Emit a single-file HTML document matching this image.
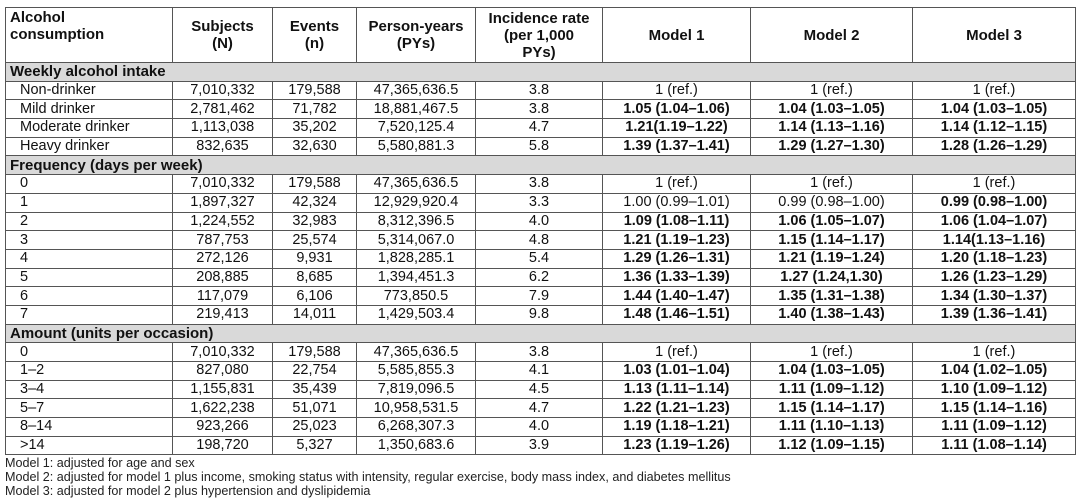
<!DOCTYPE html>
<html><head><meta charset="utf-8"><style>
body{margin:0;background:#fff;width:1080px;height:504px;overflow:hidden;font-family:"Liberation Sans",Arial,sans-serif;color:#111}
table{position:absolute;left:5px;top:7px;border-collapse:collapse;table-layout:fixed;width:1070px;font-size:14.5px}
td,th{border:1px solid #555;padding:0 4px;height:17.7px;line-height:17px;white-space:nowrap;overflow:hidden}
th{font-weight:bold;height:53px;line-height:17px;vertical-align:middle;text-align:center;font-size:15px}
th.l{text-align:left;vertical-align:top;padding-top:1px}
td{text-align:center}
td.l{text-align:left;padding-left:14px}
tr.s td{background:#d9d9d9;text-align:left;font-weight:bold;padding-left:4px;font-size:15px}
b{font-weight:bold}
.f{position:absolute;left:5px;font-size:12.6px;color:#222}
</style></head><body>
<table>
<colgroup><col style="width:167px"><col style="width:100px"><col style="width:84px"><col style="width:119px"><col style="width:127px"><col style="width:148px"><col style="width:162px"><col style="width:163px"></colgroup>
<tr><th class="l">Alcohol<br>consumption</th><th>Subjects<br>(N)</th><th>Events<br>(n)</th><th>Person-years<br>(PYs)</th><th>Incidence rate<br>(per 1,000<br>PYs)</th><th>Model 1</th><th>Model 2</th><th>Model 3</th></tr>
<tr class="s"><td colspan="8">Weekly alcohol intake</td></tr>
<tr><td class="l">Non-drinker</td><td>7,010,332</td><td>179,588</td><td>47,365,636.5</td><td>3.8</td><td>1 (ref.)</td><td>1 (ref.)</td><td>1 (ref.)</td></tr>
<tr><td class="l">Mild drinker</td><td>2,781,462</td><td>71,782</td><td>18,881,467.5</td><td>3.8</td><td><b>1.05 (1.04–1.06)</b></td><td><b>1.04 (1.03–1.05)</b></td><td><b>1.04 (1.03–1.05)</b></td></tr>
<tr><td class="l">Moderate drinker</td><td>1,113,038</td><td>35,202</td><td>7,520,125.4</td><td>4.7</td><td><b>1.21(1.19–1.22)</b></td><td><b>1.14 (1.13–1.16)</b></td><td><b>1.14 (1.12–1.15)</b></td></tr>
<tr><td class="l">Heavy drinker</td><td>832,635</td><td>32,630</td><td>5,580,881.3</td><td>5.8</td><td><b>1.39 (1.37–1.41)</b></td><td><b>1.29 (1.27–1.30)</b></td><td><b>1.28 (1.26–1.29)</b></td></tr>
<tr class="s"><td colspan="8">Frequency (days per week)</td></tr>
<tr><td class="l">0</td><td>7,010,332</td><td>179,588</td><td>47,365,636.5</td><td>3.8</td><td>1 (ref.)</td><td>1 (ref.)</td><td>1 (ref.)</td></tr>
<tr><td class="l">1</td><td>1,897,327</td><td>42,324</td><td>12,929,920.4</td><td>3.3</td><td>1.00 (0.99–1.01)</td><td>0.99 (0.98–1.00)</td><td><b>0.99 (0.98–1.00)</b></td></tr>
<tr><td class="l">2</td><td>1,224,552</td><td>32,983</td><td>8,312,396.5</td><td>4.0</td><td><b>1.09 (1.08–1.11)</b></td><td><b>1.06 (1.05–1.07)</b></td><td><b>1.06 (1.04–1.07)</b></td></tr>
<tr><td class="l">3</td><td>787,753</td><td>25,574</td><td>5,314,067.0</td><td>4.8</td><td><b>1.21 (1.19–1.23)</b></td><td><b>1.15 (1.14–1.17)</b></td><td><b>1.14(1.13–1.16)</b></td></tr>
<tr><td class="l">4</td><td>272,126</td><td>9,931</td><td>1,828,285.1</td><td>5.4</td><td><b>1.29 (1.26–1.31)</b></td><td><b>1.21 (1.19–1.24)</b></td><td><b>1.20 (1.18–1.23)</b></td></tr>
<tr><td class="l">5</td><td>208,885</td><td>8,685</td><td>1,394,451.3</td><td>6.2</td><td><b>1.36 (1.33–1.39)</b></td><td><b>1.27 (1.24,1.30)</b></td><td><b>1.26 (1.23–1.29)</b></td></tr>
<tr><td class="l">6</td><td>117,079</td><td>6,106</td><td>773,850.5</td><td>7.9</td><td><b>1.44 (1.40–1.47)</b></td><td><b>1.35 (1.31–1.38)</b></td><td><b>1.34 (1.30–1.37)</b></td></tr>
<tr><td class="l">7</td><td>219,413</td><td>14,011</td><td>1,429,503.4</td><td>9.8</td><td><b>1.48 (1.46–1.51)</b></td><td><b>1.40 (1.38–1.43)</b></td><td><b>1.39 (1.36–1.41)</b></td></tr>
<tr class="s"><td colspan="8">Amount (units per occasion)</td></tr>
<tr><td class="l">0</td><td>7,010,332</td><td>179,588</td><td>47,365,636.5</td><td>3.8</td><td>1 (ref.)</td><td>1 (ref.)</td><td>1 (ref.)</td></tr>
<tr><td class="l">1–2</td><td>827,080</td><td>22,754</td><td>5,585,855.3</td><td>4.1</td><td><b>1.03 (1.01–1.04)</b></td><td><b>1.04 (1.03–1.05)</b></td><td><b>1.04 (1.02–1.05)</b></td></tr>
<tr><td class="l">3–4</td><td>1,155,831</td><td>35,439</td><td>7,819,096.5</td><td>4.5</td><td><b>1.13 (1.11–1.14)</b></td><td><b>1.11 (1.09–1.12)</b></td><td><b>1.10 (1.09–1.12)</b></td></tr>
<tr><td class="l">5–7</td><td>1,622,238</td><td>51,071</td><td>10,958,531.5</td><td>4.7</td><td><b>1.22 (1.21–1.23)</b></td><td><b>1.15 (1.14–1.17)</b></td><td><b>1.15 (1.14–1.16)</b></td></tr>
<tr><td class="l">8–14</td><td>923,266</td><td>25,023</td><td>6,268,307.3</td><td>4.0</td><td><b>1.19 (1.18–1.21)</b></td><td><b>1.11 (1.10–1.13)</b></td><td><b>1.11 (1.09–1.12)</b></td></tr>
<tr><td class="l">&gt;14</td><td>198,720</td><td>5,327</td><td>1,350,683.6</td><td>3.9</td><td><b>1.23 (1.19–1.26)</b></td><td><b>1.12 (1.09–1.15)</b></td><td><b>1.11 (1.08–1.14)</b></td></tr>
</table>
<div class="f" style="top:456px">Model 1: adjusted for age and sex</div>
<div class="f" style="top:470px">Model 2: adjusted for model 1 plus income, smoking status with intensity, regular exercise, body mass index, and diabetes mellitus</div>
<div class="f" style="top:484px">Model 3: adjusted for model 2 plus hypertension and dyslipidemia</div>
</body></html>
